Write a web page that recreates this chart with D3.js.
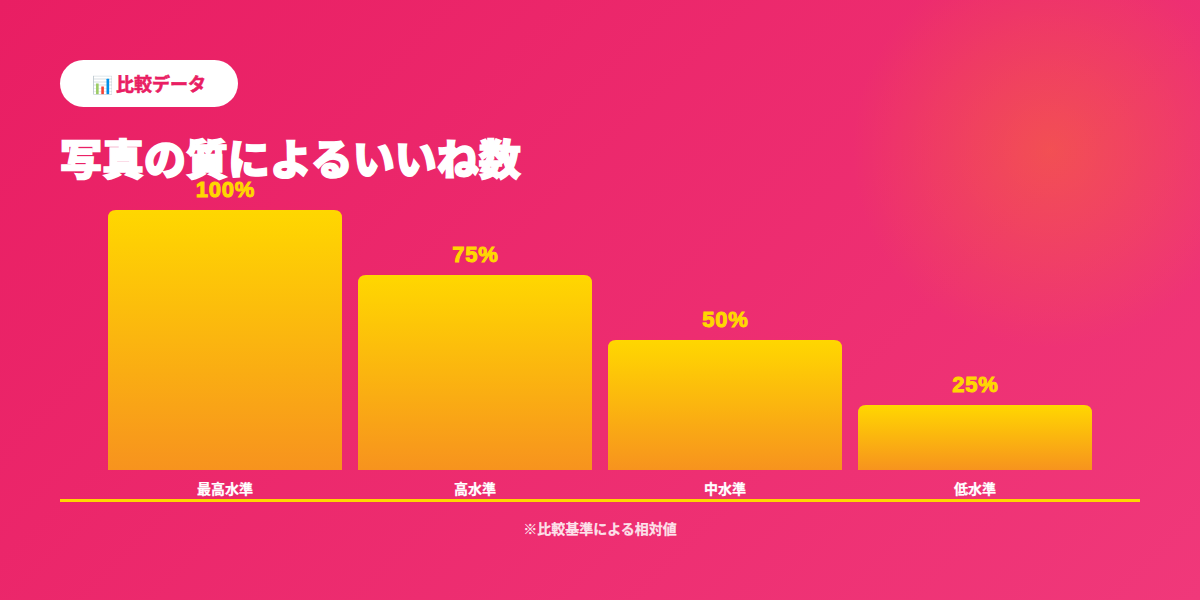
<!DOCTYPE html>
<html>
<head>
<meta charset="utf-8">
<script src="https://cdn.jsdelivr.net/npm/d3@7"></script>
<style>
html, body { margin: 0; padding: 0; width: 1200px; height: 600px; overflow: hidden; }
svg { display: block; }
text { font-family: "Liberation Sans", "Noto Sans CJK JP", sans-serif; }
</style>
</head>
<body>
<script>
var categories = ["最高水準", "高水準", "中水準", "低水準"];
var values = [100, 75, 50, 25];
var valueLabels = ["100%", "75%", "50%", "25%"];

var svg = d3.select("body").append("svg")
  .attr("width", 1200)
  .attr("height", 600);

var defs = svg.append("defs");

// page background
var bg = defs.append("linearGradient").attr("id", "bg")
  .attr("gradientUnits", "userSpaceOnUse")
  .attr("x1", 150).attr("y1", -150).attr("x2", 1050).attr("y2", 750);
bg.append("stop").attr("offset", "0%").attr("stop-color", "#e91e63");
bg.append("stop").attr("offset", "100%").attr("stop-color", "#f0387a");

// soft orange glow, top right
var glow = defs.append("radialGradient").attr("id", "glow");
glow.append("stop").attr("offset", "0%").attr("stop-color", "#ffa500").attr("stop-opacity", 0.27);
glow.append("stop").attr("offset", "70%").attr("stop-color", "#ffa500").attr("stop-opacity", 0);

var barFill = defs.append("linearGradient").attr("id", "barFill")
  .attr("x1", 0).attr("y1", 0).attr("x2", 0).attr("y2", 1);
barFill.append("stop").attr("offset", "0%").attr("stop-color", "#ffd700");
barFill.append("stop").attr("offset", "100%").attr("stop-color", "#f7931e");

svg.append("rect").attr("width", 1200).attr("height", 600).attr("fill", "url(#bg)");
svg.append("circle").attr("cx", 1050).attr("cy", 150).attr("r", 283).attr("fill", "url(#glow)");

// pill
svg.append("rect")
  .attr("x", 60).attr("y", 60)
  .attr("width", 178).attr("height", 47)
  .attr("rx", 23.5)
  .attr("fill", "#fff");

svg.append("text")
  .attr("x", 92).attr("y", 91)
  .attr("font-size", 17)
  .text("📊");

svg.append("text")
  .attr("x", 116).attr("y", 90.5)
  .attr("font-size", 18)
  .attr("font-weight", 700)
  .attr("fill", "#e91e63")
  .attr("stroke", "#e91e63").attr("stroke-width", 0.6)
  .text("比較データ");

// title
svg.append("text")
  .attr("x", 60).attr("y", 175)
  .attr("font-size", 42)
  .attr("font-weight", 900)
  .attr("fill", "#fff")
  .attr("stroke", "#fff").attr("stroke-width", 1.5)
  .text("写真の質によるいいね数");

// scales
var x = d3.scaleBand()
  .domain(categories)
  .range([100, 1100])
  .paddingInner(16 / 250)
  .paddingOuter(8 / 250);

var y = d3.scaleLinear()
  .domain([0, 100])
  .range([470, 210]);

// bars, top corners rounded only
var r = 8;
svg.selectAll(".bar")
  .data(values)
  .enter().append("path")
  .attr("class", "bar")
  .attr("fill", "url(#barFill)")
  .attr("d", function(d, i) {
    var x0 = x(categories[i]), x1 = x0 + x.bandwidth(), top = y(d), bot = y(0);
    return "M" + x0 + "," + bot + "V" + (top + r) + "Q" + x0 + "," + top + " " + (x0 + r) + "," + top +
      "H" + (x1 - r) + "Q" + x1 + "," + top + " " + x1 + "," + (top + r) + "V" + bot + "Z";
  });

// value labels
svg.selectAll(".val")
  .data(values)
  .enter().append("text")
  .attr("class", "val")
  .attr("x", function(d, i) { return x(categories[i]) + x.bandwidth() / 2 + 0.5; })
  .attr("y", function(d) { return y(d) - 13; })
  .attr("text-anchor", "middle")
  .attr("font-size", 22)
  .attr("font-weight", 900)
  .attr("letter-spacing", 0.8)
  .attr("fill", "#ffd700")
  .attr("stroke", "#ffd700").attr("stroke-width", 1)
  .text(function(d, i) { return valueLabels[i]; });

// category labels
svg.selectAll(".cat")
  .data(categories)
  .enter().append("text")
  .attr("class", "cat")
  .attr("x", function(d) { return x(d) + x.bandwidth() / 2; })
  .attr("y", 494)
  .attr("text-anchor", "middle")
  .attr("font-size", 14)
  .attr("font-weight", 700)
  .attr("fill", "#fff")
  .attr("stroke", "#fff").attr("stroke-width", 0.25)
  .text(function(d) { return d; });

// baseline
svg.append("rect")
  .attr("x", 60).attr("y", 499)
  .attr("width", 1080).attr("height", 3)
  .attr("fill", "#ffd700");

// footnote
svg.append("text")
  .attr("x", 600).attr("y", 534)
  .attr("text-anchor", "middle")
  .attr("font-size", 14)
  .attr("font-weight", 700)
  .attr("fill", "#fff")
  .attr("fill-opacity", 0.85)
  .attr("stroke", "#fff").attr("stroke-opacity", 0.85).attr("stroke-width", 0.25)
  .text("※比較基準による相対値");
</script>
</body>
</html>
